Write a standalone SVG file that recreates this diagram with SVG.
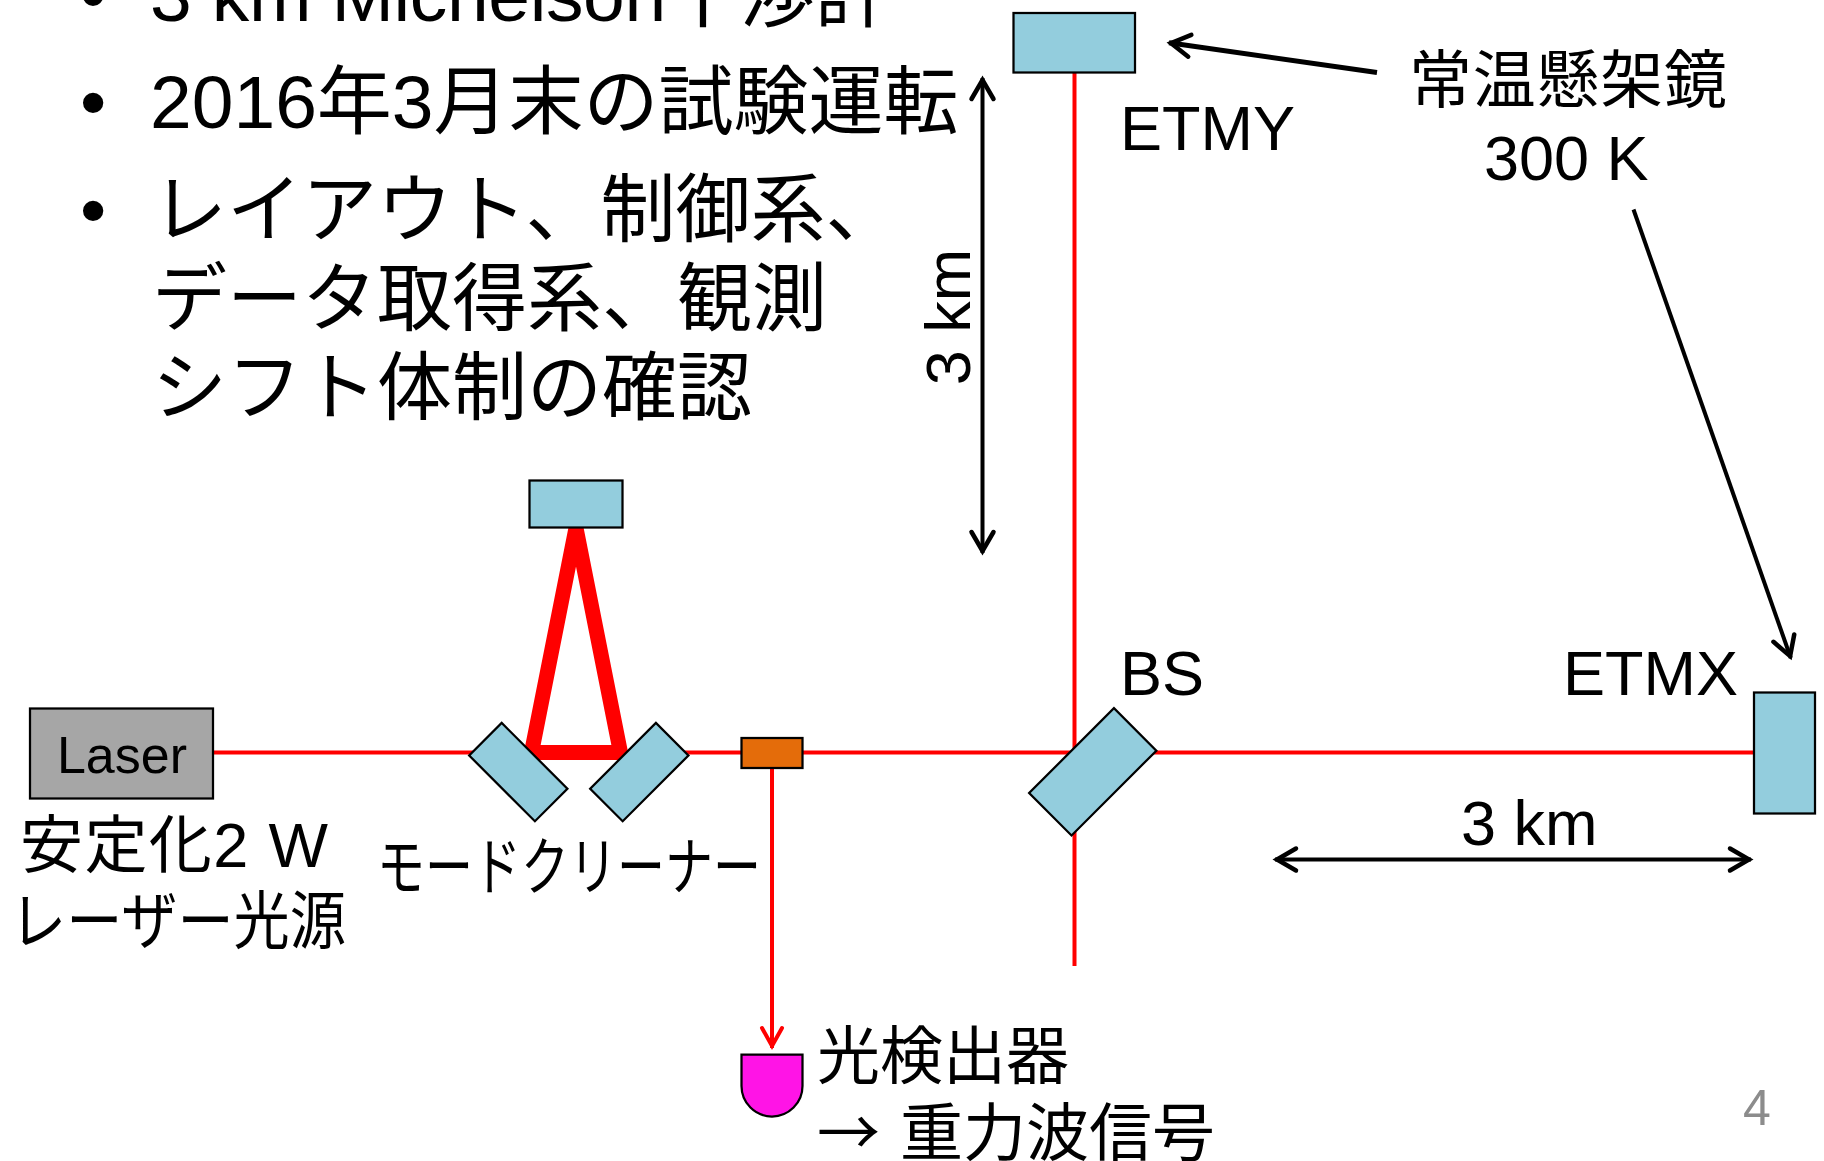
<svg xmlns="http://www.w3.org/2000/svg" width="1824" height="1161" viewBox="0 0 1824 1161">
<style>
text{font-family:"Liberation Sans","Noto Sans CJK JP",sans-serif;fill:#000}
.b{font-size:75px}
.l{font-size:63px}
.cjk{font-family:"Noto Sans CJK JP","Liberation Sans",sans-serif}
.mir{fill:#93CDDD;stroke:#000;stroke-width:2.25}
.beam{fill:none;stroke:#FF0000;stroke-width:4}
.arr{fill:none;stroke:#000;stroke-width:4}
.thick{stroke-width:5}
</style>
<defs>
<marker id="hb" markerUnits="userSpaceOnUse" markerWidth="40" markerHeight="40" viewBox="-30 -20 40 40" refX="0" refY="0" orient="auto-start-reverse" overflow="visible">
<path d="M-21,-11 L-2,0 L-21,11" fill="none" stroke="#000" stroke-width="4.5" stroke-linecap="round"/>
</marker>
<marker id="hr" markerUnits="userSpaceOnUse" markerWidth="40" markerHeight="40" viewBox="-30 -20 40 40" refX="0" refY="0" orient="auto" overflow="visible">
<path d="M-20,-10 L-2,0 L-20,10" fill="none" stroke="#FF0000" stroke-width="4" stroke-linecap="round"/>
</marker>
</defs>
<rect width="1824" height="1161" fill="#fff"/>

<g id="bullets">
<text class="b" x="80" y="21">•</text>
<text class="b" x="150" y="21" textLength="740">3 km Michelson干渉計</text>
<text class="b" x="80" y="128">•</text>
<text class="b" x="150" y="128">2016年3月末の試験運転</text>
<text class="b" x="80" y="236">•</text>
<text class="b" x="152" y="236">レイアウト、制御系、</text>
<text class="b" x="152" y="325">データ取得系、観測</text>
<text class="b" x="152" y="414">シフト体制の確認</text>
</g>

<g id="connectors">
<path class="beam" d="M213,752.5 H1754"/>
<path class="beam" d="M1074.5,72.5 V966"/>
<path class="beam" d="M772,768 V1048" marker-end="url(#hr)"/>
<path d="M531.5,752.5 L576,528 L620.5,752.5 Z" fill="none" stroke="#FF0000" stroke-width="15" stroke-miterlimit="10"/>
<path class="arr" d="M982.5,78 V553" marker-start="url(#hb)" marker-end="url(#hb)"/>
<path class="arr" d="M1275,859.5 H1751" marker-start="url(#hb)" marker-end="url(#hb)"/>
<path class="arr thick" d="M1377,72.5 L1169,42.8" marker-end="url(#hb)"/>
<path class="arr" d="M1633.5,209.5 L1790.8,658" marker-end="url(#hb)"/>
</g>

<g id="laser">
<rect x="30" y="708.5" width="183" height="90" fill="#A6A6A6" stroke="#000" stroke-width="2.25"/>
<text x="122" y="773" font-size="52" text-anchor="middle">Laser</text>
<text class="l" x="20" y="867" textLength="308">安定化2 W</text>
<text class="l" x="10" y="943" textLength="336" lengthAdjust="spacingAndGlyphs">レーザー光源</text>
</g>

<g id="mode-cleaner">
<rect class="mir" x="529.5" y="480.5" width="93" height="47"/>
<rect class="mir" x="-46.5" y="-23" width="93" height="46" transform="translate(518.3,772.1) rotate(45)"/>
<rect class="mir" x="-46.5" y="-23" width="93" height="46" transform="translate(639.3,772.1) rotate(-45)"/>
<text class="l" x="377" y="889" textLength="384" lengthAdjust="spacingAndGlyphs">モードクリーナー</text>
</g>

<g id="pickoff">
<rect x="741.5" y="738" width="61" height="30" fill="#E46C0A" stroke="#000" stroke-width="2.25"/>
</g>

<g id="bs">
<rect class="mir" x="-30" y="-60" width="60" height="120" transform="translate(1092.75,771.85) rotate(45)"/>
<text class="l" x="1120" y="695">BS</text>
</g>

<g id="etmy">
<rect class="mir" x="1013.5" y="13" width="121.5" height="59.5"/>
<text class="l" x="1120" y="150">ETMY</text>
</g>

<g id="etmx">
<rect class="mir" x="1754" y="692.5" width="61" height="121"/>
<text class="l" x="1563" y="695">ETMX</text>
</g>

<g id="photodetector">
<path d="M741.5,1054.5 H802.5 V1086 A30.5,30.5 0 0 1 741.5,1086 Z" fill="#FF14E6" stroke="#000" stroke-width="2.25"/>
<text class="l" x="817" y="1078">光検出器</text>
<text class="l" y="1155"><tspan class="cjk" x="817">→</tspan><tspan x="900">重力波信号</tspan></text>
</g>

<g id="labels">
<text class="l" x="1409" y="102" textLength="318">常温懸架鏡</text>
<text class="l" x="1484" y="180">300 K</text>
<text class="l" x="1461" y="845">3 km</text>
<text class="l" text-anchor="middle" transform="translate(970,317) rotate(-90)">3 km</text>
<text x="1743" y="1125" font-size="50" style="fill:#8C8C8C">4</text>
</g>
</svg>
